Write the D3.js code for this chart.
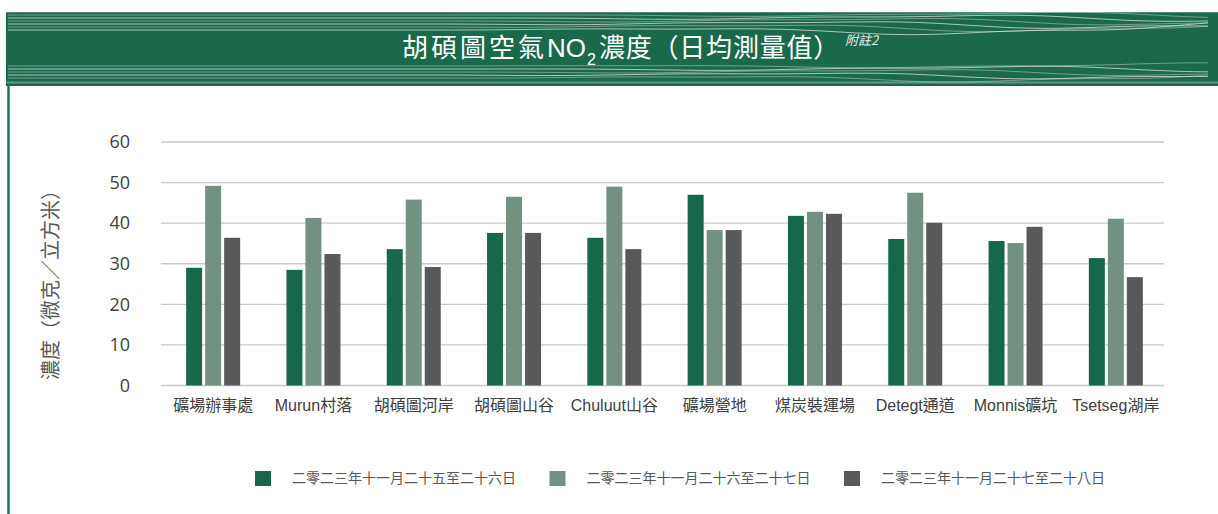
<!DOCTYPE html>
<html>
<head>
<meta charset="utf-8">
<script src="https://cdn.jsdelivr.net/npm/d3@7"></script>
<style>
  body { margin: 0; background: #fff; }
  svg { display: block; }
</style>
</head>
<body>
<div id="chart"></div>
<script>
// data
const categories = ['礦場辦事處', 'Murun村落', '胡碩圖河岸', '胡碩圖山谷', 'Chuluut山谷', '礦場營地', '煤炭裝運場', 'Detegt通道', 'Monnis礦坑', 'Tsetseg湖岸'];
const seriesNames = ['二零二三年十一月二十五至二十六日', '二零二三年十一月二十六至二十七日', '二零二三年十一月二十七至二十八日'];
const day1 = [29.0, 28.5, 33.6, 37.6, 36.4, 47.0, 41.8, 36.1, 35.6, 31.4];
const day2 = [49.2, 41.3, 45.8, 46.5, 49.0, 38.3, 42.8, 47.5, 35.1, 41.1];
const day3 = [36.4, 32.4, 29.2, 37.6, 33.6, 38.3, 42.3, 40.1, 39.1, 26.7];
const yTicks = [0, 10, 20, 30, 40, 50, 60];

const colors = ['#17684a', '#729181', '#58595b'];
const width = 1218, height = 514;

const svg = d3.select('#chart').append('svg')
    .attr('width', width)
    .attr('height', height);

// header band
const header = svg.append('g');
header.append('rect')
    .attr('x', 6).attr('y', 12)
    .attr('width', width - 6).attr('height', 74)
    .attr('fill', '#1a694b');
header.append('line')
    .attr('x1', 6).attr('x2', width).attr('y1', 12.5).attr('y2', 12.5)
    .attr('stroke', '#4f8f71').attr('stroke-width', 1);
header.append('line')
    .attr('x1', 6).attr('x2', width).attr('y1', 82.5).attr('y2', 82.5)
    .attr('stroke', '#5f9a7f').attr('stroke-width', 2);

// wavy lines in the header (decoration)
const wave = d3.line().curve(d3.curveBasis);
function wavePoints(y0, k, amp) {
    const pts = [];
    for (let x = 8; x <= width; x += 30) {
        const t = Math.max(0, (x - 450) / 770);
        pts.push([x, y0 + amp * t * Math.sin(x / 95 + k) + amp * 0.4 * t * Math.sin(x / 37 + k * 2)]);
    }
    return pts;
}
[[15, 0.3], [18, 1.1], [21, 2.0], [24, 2.7], [27, 3.5], [30, 4.4]].forEach((d, i) => {
    header.append('path')
        .attr('d', wave(wavePoints(d[0], d[1], 3 + i * 0.6)))
        .attr('fill', 'none')
        .attr('stroke', '#d9e3de')
        .attr('stroke-opacity', 0.45 + (i % 2) * 0.3)
        .attr('stroke-width', 1);
});
[[66, 5.0], [69, 0.6], [72, 1.8], [75, 2.9], [78, 3.9]].forEach((d, i) => {
    header.append('path')
        .attr('d', wave(wavePoints(d[0], d[1], 2.5 + i * 0.6)))
        .attr('fill', 'none')
        .attr('stroke', '#d9e3de')
        .attr('stroke-opacity', 0.45 + (i % 2) * 0.3)
        .attr('stroke-width', 1);
});

// title
const title = svg.append('text')
    .attr('x', 402).attr('y', 57)
    .attr('fill', '#ffffff')
    .attr('font-family', '"Noto Sans CJK TC", sans-serif')
    .attr('font-size', 26);
title.append('tspan').attr('letter-spacing', 3).text('胡碩圖空氣');
title.append('tspan').attr('font-family', '"Liberation Sans", sans-serif').text('NO');
title.append('tspan').attr('font-family', '"Liberation Sans", sans-serif')
    .attr('font-size', 16).attr('dy', 8).attr('dx', 1).text('2');
title.append('tspan').attr('dy', -8).attr('dx', 3).attr('letter-spacing', 0.8).text('濃度（日均測量值）');

svg.append('text')
    .attr('x', 845).attr('y', 45)
    .attr('fill', '#e6ece9')
    .attr('font-family', '"Noto Sans CJK TC", sans-serif')
    .attr('font-size', 13)
    .attr('font-style', 'italic')
    .text('附註2');

// left border
svg.append('line')
    .attr('x1', 8.5).attr('x2', 8.5).attr('y1', 84).attr('y2', height)
    .attr('stroke', '#23714f').attr('stroke-width', 2.5);

// scales
const x0 = d3.scaleBand()
    .domain(categories)
    .range([163, 1166]);

const x1 = d3.scaleBand()
    .domain([0, 1, 2])
    .range([-27, 27])
    .paddingInner(0.158);

const y = d3.scaleLinear()
    .domain([0, 60])
    .range([385.5, 142]);

// gridlines
svg.append('g')
    .selectAll('line')
    .data(yTicks)
    .enter().append('line')
    .attr('x1', 161).attr('x2', 1164)
    .attr('y1', d => y(d)).attr('y2', d => y(d))
    .attr('stroke', '#cacaca')
    .attr('stroke-width', 1.3);

// y axis labels
const yAxis = svg.append('g')
    .attr('transform', 'translate(130, 0)')
    .call(d3.axisLeft(y).tickValues(yTicks).tickSize(0).tickPadding(0));
yAxis.select('.domain').remove();
yAxis.selectAll('text')
    .attr('fill', '#404040')
    .attr('font-family', '"Open Sans", sans-serif')
    .attr('font-size', 18);

// y axis title
svg.append('text')
    .attr('transform', 'translate(58, 280) rotate(-90)')
    .attr('text-anchor', 'middle')
    .attr('fill', '#595959')
    .attr('font-family', '"Noto Sans CJK TC", sans-serif')
    .attr('font-size', 20)
    .text('濃度（微克／立方米）');

// x axis labels
const xAxis = svg.append('g')
    .attr('transform', 'translate(0, 400)')
    .call(d3.axisBottom(x0).tickSize(0).tickPadding(0));
xAxis.select('.domain').remove();
xAxis.selectAll('text')
    .attr('fill', '#404040')
    .attr('font-family', '"Liberation Sans", "Noto Sans CJK TC", sans-serif')
    .attr('font-size', 16);

// bars
const seriesValues = [day1, day2, day3];
const rows = categories.map((c, i) => ({
    category: c,
    values: seriesValues.map((s, j) => ({ series: j, value: s[i] }))
}));

svg.append('g')
    .selectAll('g')
    .data(rows)
    .enter().append('g')
    .attr('transform', d => `translate(${x0(d.category) + x0.bandwidth() / 2}, 0)`)
    .selectAll('rect')
    .data(d => d.values)
    .enter().append('rect')
    .attr('x', d => x1(d.series))
    .attr('y', d => y(d.value))
    .attr('width', x1.bandwidth())
    .attr('height', d => y(0) - y(d.value))
    .attr('fill', d => colors[d.series]);

// legend
const legend = svg.append('g')
    .selectAll('g')
    .data(seriesNames)
    .enter().append('g')
    .attr('transform', (d, i) => `translate(${255 + i * 294.5}, 471)`);

legend.append('rect')
    .attr('width', 16).attr('height', 15)
    .attr('fill', (d, i) => colors[i]);

legend.append('text')
    .attr('x', 37).attr('y', 7.5)
    .attr('dy', '0.35em')
    .attr('fill', '#595959')
    .attr('font-family', '"Noto Sans CJK TC", sans-serif')
    .attr('font-size', 14)
    .text(d => d);
</script>
</body>
</html>
